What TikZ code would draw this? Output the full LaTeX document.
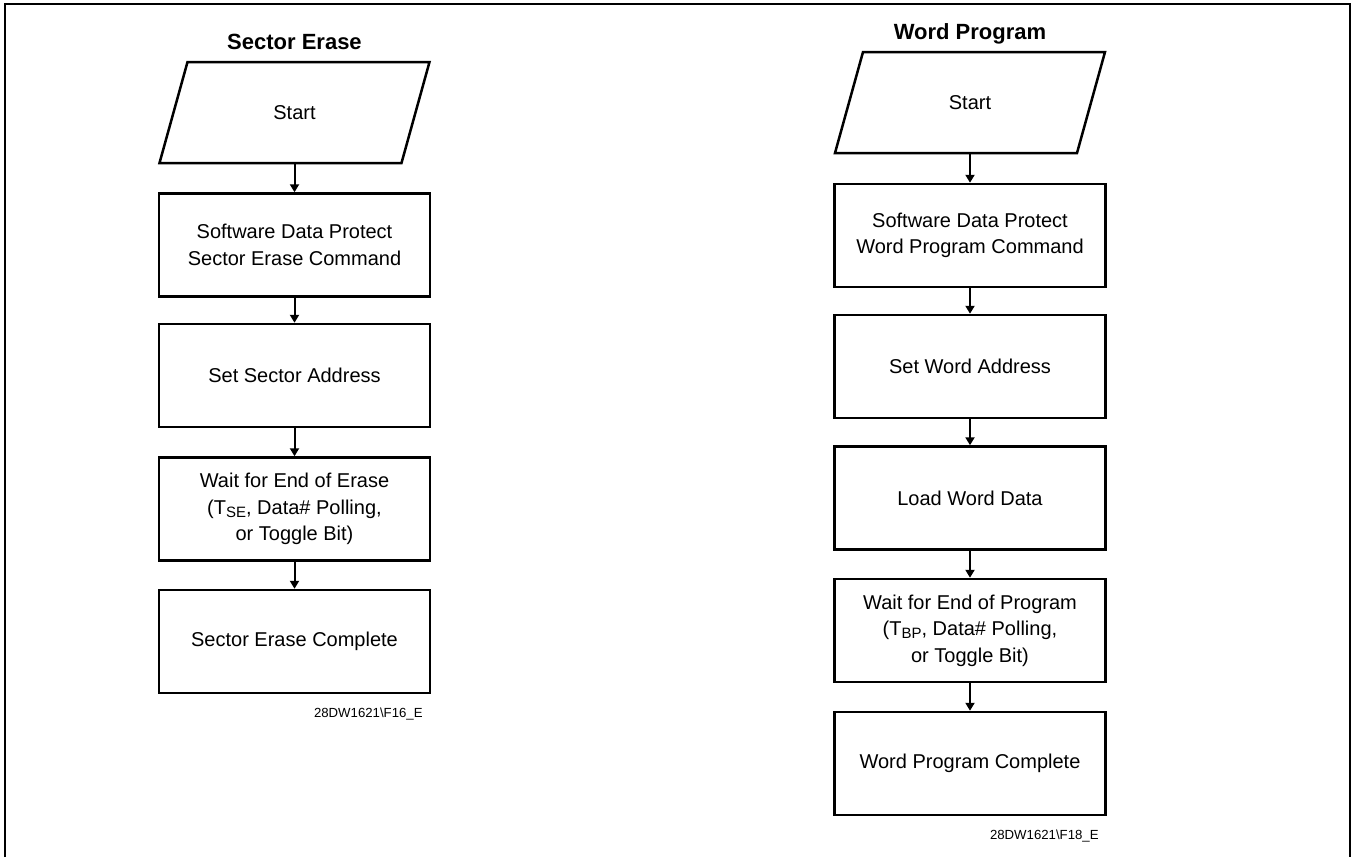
\documentclass[tikz,border=0pt]{standalone}
\usepackage{fontspec}
\setmainfont{Liberation Sans}
\usetikzlibrary{arrows.meta}
\newcommand{\lowsub}[1]{\raisebox{-1.6pt}{\fontsize{7.5}{8}\selectfont #1}}

\begin{document}
\begin{tikzpicture}[x=0.5pt,y=-0.5pt,
  box/.style={draw, line width=1.25pt, minimum width=135.5pt, minimum height=51.5pt, inner sep=0pt, align=center, font=\fontsize{10}{13.3}\selectfont},
  startbox/.style={minimum width=135.5pt, minimum height=50.5pt, inner sep=0pt, font=\fontsize{10}{13.3}\selectfont},
  arr/.style={line width=1pt, -{Triangle[length=4pt,width=4.5pt]}},
  ttl/.style={anchor=base, font=\bfseries\fontsize{11}{13}\selectfont},
  fig/.style={anchor=base east, inner sep=0pt, font=\fontsize{6.6}{8}\selectfont}]
\useasboundingbox (0,0) rectangle (1355,857);
\draw[line width=1pt] (5,857) -- (5,4) -- (1350,4) -- (1350,857);

% sector erase
\node[ttl] (se) at (294.5,49) {Sector Erase};
\node[startbox] (se0) at (294.5,112.5) {Start};
\draw[line width=1.25pt] (se0.center) ++(-107,-50.5) -- ++(242,0) -- ++(-28,101) -- ++(-242,0) -- cycle;
\node[box] (se1) at (294.5,245) {Software Data Protect\\Sector Erase Command};
\node[box] (se2) at (294.5,375.5) {Set Sector Address};
\node[box] (se3) at (294.5,509) {Wait for End of Erase\\(T\lowsub{SE}, Data\# Polling,\\or Toggle Bit)};
\node[box] (se4) at (294.5,641.5) {Sector Erase Complete};
\node[fig] (sefig) at (423,717) {28DW1621\textbackslash F16\_E};

% word program
\node[ttl] (wp) at (970,39) {Word Program};
\node[startbox] (wp0) at (970,102.5) {Start};
\draw[line width=1.25pt] (wp0.center) ++(-107,-50.5) -- ++(242,0) -- ++(-28,101) -- ++(-242,0) -- cycle;
\node[box] (wp1) at (970,235.5) {Software Data Protect\\Word Program Command};
\node[box] (wp2) at (970,366.5) {Set Word Address};
\node[box] (wp3) at (970,498) {Load Word Data};
\node[box] (wp4) at (970,630.5) {Wait for End of Program\\(T\lowsub{BP}, Data\# Polling,\\or Toggle Bit)};
\node[box] (wp5) at (970,763.5) {Word Program Complete};
\node[fig] (wpfig) at (1099,839) {28DW1621\textbackslash F18\_E};

\foreach \a/\b in {se0/se1,se1/se2,se2/se3,se3/se4,wp0/wp1,wp1/wp2,wp2/wp3,wp3/wp4,wp4/wp5}
  \draw[arr] (\a) -- (\b);
\end{tikzpicture}
\end{document}
